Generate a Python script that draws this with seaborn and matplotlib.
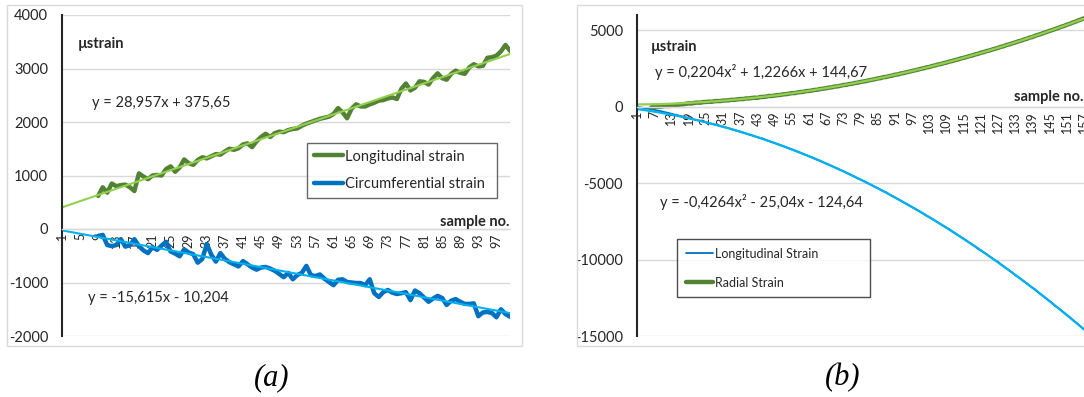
import numpy as np
import matplotlib
matplotlib.use("Agg")
import matplotlib.pyplot as plt
from matplotlib.patches import Rectangle
import seaborn as sns

# ================================================================
# DATA
# ================================================================
# (a) sample numbers 9..100
long_a = [620, 780, 680, 850, 800, 820, 830, 780, 710, 1040,
          980, 930, 1000, 1010, 1000, 1120, 1170, 1070, 1150, 1300,
          1230, 1200, 1290, 1340, 1320, 1360, 1400, 1390, 1450, 1500,
          1480, 1510, 1580, 1600, 1530, 1640, 1720, 1780, 1720, 1790,
          1820, 1810, 1850, 1870, 1880, 1930, 1970, 2000, 2030, 2060,
          2080, 2100, 2150, 2260, 2180, 2070, 2250, 2330, 2290, 2290,
          2330, 2360, 2400, 2410, 2440, 2460, 2430, 2620, 2720, 2590,
          2640, 2760, 2750, 2700, 2820, 2910, 2820, 2790, 2900, 2960,
          2920, 2900, 3020, 3080, 3040, 3050, 3200, 3210, 3240, 3320,
          3440, 3330]
circ_a = [-130, -110, -300, -320, -300, -190, -330, -300, -190, -320,
          -400, -450, -340, -390, -310, -240, -420, -460, -510, -380,
          -440, -470, -630, -560, -280, -480, -610, -450, -560, -620,
          -660, -700, -600, -660, -720, -760, -720, -710, -740, -780,
          -840, -900, -820, -940, -860, -820, -690, -860, -880, -850,
          -930, -990, -1050, -950, -940, -990, -1000, -1010, -1010, -1050,
          -940, -1200, -1270, -1180, -1140, -1190, -1215, -1200, -1180, -1330,
          -1150, -1200, -1280, -1360, -1300, -1250, -1290, -1420, -1340, -1310,
          -1360, -1400, -1400, -1390, -1630, -1560, -1550, -1570, -1650, -1500,
          -1590, -1640]
first_a = 9
trend_long_a = [28.957, 375.65]
trend_circ_a = [-15.615, -10.204]

# (b) radial strain from sample 6, longitudinal strain from sample 1
radial_b = [-40, -10, 10, 0, 30, 50, 40, 70, 100, 110,
            150, 160, 190, 220, 210, 250, 270, 260, 300, 310,
            330, 320, 360, 370, 370, 400, 410, 420, 450, 450,
            480, 500, 500, 540, 540, 570, 590, 580, 630, 640,
            660, 700, 700, 730, 760, 770, 810, 820, 850, 890,
            890, 930, 960, 970, 1020, 1030, 1060, 1100, 1110, 1160,
            1180, 1210, 1250, 1270, 1320, 1330, 1370, 1420, 1430, 1480,
            1500, 1550, 1570, 1620, 1650, 1680, 1730, 1760, 1800, 1850,
            1870, 1930, 1950, 2000, 2030, 2090, 2110, 2170, 2200, 2250,
            2290, 2340, 2380, 2420, 2480, 2510, 2570, 2600, 2660, 2700,
            2760, 2790, 2850, 2890, 2950, 2990, 3050, 3090, 3160, 3200,
            3250, 3310, 3350, 3420, 3460, 3530, 3570, 3640, 3680, 3740,
            3800, 3850, 3920, 3960, 4040, 4080, 4150, 4200, 4270, 4320,
            4390, 4440, 4520, 4560, 4640, 4700, 4760, 4830, 4890, 4960,
            5020, 5090, 5150, 5230, 5280, 5360, 5420, 5500, 5560, 5640,
            5710, 5790, 5850]
long_b = [-20, -40, -70, -100, -130, -170, -200, -240, -280, -320,
          -370, -410, -460, -510, -550, -600, -650, -700, -740, -790,
          -840, -880, -930, -970, -1020, -1060, -1110, -1160, -1200, -1260,
          -1310, -1360, -1410, -1470, -1520, -1580, -1630, -1690, -1750, -1810,
          -1860, -1930, -1990, -2050, -2090, -2180, -2240, -2310, -2370, -2440,
          -2510, -2580, -2650, -2720, -2790, -2860, -2940, -3010, -3090, -3160,
          -3240, -3300, -3390, -3470, -3550, -3630, -3720, -3800, -3880, -3970,
          -4050, -4140, -4220, -4310, -4400, -4490, -4580, -4700, -4760, -4860,
          -4950, -5040, -5140, -5240, -5330, -5430, -5530, -5600, -5730, -5830,
          -5930, -6040, -6140, -6250, -6350, -6460, -6570, -6670, -6780, -6890,
          -7000, -7130, -7230, -7340, -7450, -7570, -7690, -7800, -7920, -8010,
          -8160, -8280, -8400, -8520, -8640, -8770, -8890, -9020, -9140, -9300,
          -9400, -9530, -9650, -9790, -9920, -10050, -10150, -10320, -10450, -10590,
          -10720, -10860, -11030, -11140, -11280, -11420, -11560, -11700, -11840, -11960,
          -12130, -12280, -12420, -12570, -12720, -12870, -13050, -13170, -13320, -13470,
          -13630, -13760, -13940, -14090, -14250, -14410, -14570, -14730]
first_radial_b = 6
first_long_b = 1
trend_radial_b = [0.2204, 1.2266, 144.67]
trend_long_b = [-0.4264, -25.04, -124.64]

# ================================================================
# STYLE
# ================================================================
sns.set_theme(style="white")
plt.rcParams["font.family"] = ["Lato", "DejaVu Sans"]
plt.rcParams["axes.unicode_minus"] = False

DARK_GREEN = "#548235"
LIGHT_GREEN = "#92d050"
BLUE = "#0070c0"
LIGHT_BLUE = "#00b0f0"
GRID = "#d9d9d9"
TXT = "#262626"

W, H = 1084, 397


def fx(x):
    return x / W


def fy(y):
    return 1 - y / H


def style_axes(ax, yticks, xticks):
    ax.set_yticks(yticks)
    ax.set_xticks(xticks)
    ax.set_xticklabels([str(t) for t in xticks])
    ax.tick_params(axis="y", length=4, width=1.2, color=TXT, pad=6, labelsize=10.5, labelcolor=TXT)
    ax.tick_params(axis="x", length=0, pad=3, labelrotation=90, labelsize=9, labelcolor=TXT)
    for lab in ax.get_xticklabels():
        lab.set_verticalalignment("top")
        lab.set_horizontalalignment("center")
    ax.yaxis.grid(True, color=GRID, lw=1)
    ax.xaxis.grid(False)
    ax.set_axisbelow(True)
    ax.spines["top"].set_visible(False)
    ax.spines["right"].set_visible(False)
    ax.spines["left"].set_color(TXT)
    ax.spines["left"].set_linewidth(1.5)
    ax.spines["bottom"].set_position(("data", 0))
    ax.spines["bottom"].set_color(GRID)
    ax.spines["bottom"].set_linewidth(1)
    ax.set_xlabel("")
    ax.set_ylabel("")


fig = plt.figure(figsize=(W / 100, H / 100), dpi=100)

# chart frames
fig.patches.append(Rectangle((fx(7), fy(346)), (522 - 7) / W, (346 - 5) / H,
                             transform=fig.transFigure, fill=False, ec=GRID, lw=1))
fig.patches.append(Rectangle((fx(577), fy(346)), (1095 - 577) / W, (346 - 5) / H,
                             transform=fig.transFigure, fill=False, ec=GRID, lw=1))

# ================================================================
# (a)
# ================================================================
ax_a = fig.add_axes([fx(62), fy(336), (510 - 62) / W, (336 - 15) / H])
x_a = np.arange(first_a, first_a + len(long_a))
x_tr_a = np.arange(1, 101)

sns.lineplot(x=x_a, y=long_a, ax=ax_a, color=DARK_GREEN, lw=3.2, label="Longitudinal strain")
sns.lineplot(x=x_a, y=circ_a, ax=ax_a, color=BLUE, lw=3.2, label="Circumferential strain")
sns.lineplot(x=x_tr_a, y=np.polyval(trend_long_a, x_tr_a), ax=ax_a, color=LIGHT_GREEN, lw=1.5)
sns.lineplot(x=x_tr_a, y=np.polyval(trend_circ_a, x_tr_a), ax=ax_a, color=LIGHT_BLUE, lw=1.5)

ax_a.set_xlim(1, 100)
ax_a.set_ylim(-2000, 4000)
style_axes(ax_a, np.arange(-2000, 4001, 1000), np.arange(1, 101, 4))

h, l = ax_a.get_legend_handles_labels()
leg = ax_a.legend(h[:2], l[:2], loc="upper left", mode="expand",
                  bbox_to_anchor=(fx(307), fy(205), (497 - 307) / W, (205 - 143) / H),
                  bbox_transform=fig.transFigure, fontsize=10.5, frameon=True, fancybox=False,
                  edgecolor="#404040", borderpad=0.45, labelspacing=0.95,
                  handlelength=2.0, handletextpad=0.15, borderaxespad=0)
leg.get_frame().set_linewidth(1)
for t in leg.get_texts():
    t.set_color(TXT)

fig.text(fx(78), fy(44), "µstrain", fontsize=10.5, fontweight="bold", color=TXT, va="center")
fig.text(fx(92), fy(103), "y = 28,957x + 375,65", fontsize=10.5, color=TXT, va="center")
fig.text(fx(88), fy(298), "y = -15,615x - 10,204", fontsize=10.5, color=TXT, va="center")
fig.text(fx(510), fy(222), "sample no.", fontsize=10.5, fontweight="bold", color=TXT,
         va="center", ha="right")

# ================================================================
# (b)
# ================================================================
ax_b = fig.add_axes([fx(637), fy(336), (1084 - 637) / W, (336 - 15) / H])
x_rad_b = np.arange(first_radial_b, first_radial_b + len(radial_b))
x_long_b = np.arange(first_long_b, first_long_b + len(long_b))
x_tr_b = np.arange(1, 159)

sns.lineplot(x=x_long_b, y=long_b, ax=ax_b, color=BLUE, lw=1.3, label="Longitudinal Strain")
sns.lineplot(x=x_rad_b, y=radial_b, ax=ax_b, color=DARK_GREEN, lw=3.2, label="Radial Strain")
sns.lineplot(x=x_tr_b, y=np.polyval(trend_radial_b, x_tr_b), ax=ax_b, color=LIGHT_GREEN, lw=1.6)
sns.lineplot(x=x_tr_b, y=np.polyval(trend_long_b, x_tr_b), ax=ax_b, color=LIGHT_BLUE, lw=1.6)

ax_b.set_xlim(1, 156.8)
ax_b.set_ylim(-15000, 6000)
style_axes(ax_b, np.arange(-15000, 5001, 5000), np.arange(1, 159, 6))

h, l = ax_b.get_legend_handles_labels()
leg = ax_b.legend(h[:2], l[:2], loc="upper left", mode="expand",
                  bbox_to_anchor=(fx(677), fy(305), (870 - 677) / W, (305 - 239) / H),
                  bbox_transform=fig.transFigure, fontsize=9, frameon=True, fancybox=False,
                  edgecolor="#202020", borderpad=0.7, labelspacing=1.35,
                  handlelength=2.2, handletextpad=0.15, borderaxespad=0)
leg.get_frame().set_linewidth(1)
for t in leg.get_texts():
    t.set_color(TXT)

fig.text(fx(651), fy(47), "µstrain", fontsize=10.5, fontweight="bold", color=TXT, va="center")
fig.text(fx(655), fy(72), "y = 0,2204x² + 1,2266x + 144,67", fontsize=10.5, color=TXT, va="center")
fig.text(fx(660), fy(202), "y = -0,4264x² - 25,04x - 124,64", fontsize=10.5, color=TXT, va="center")
fig.text(fx(1014), fy(97), "sample no.", fontsize=10.5, fontweight="bold", color=TXT, va="center")

# captions
fig.text(fx(272), fy(378), "(a)", fontsize=22, style="italic", family="Liberation Serif",
         color="black", ha="center", va="center")
fig.text(fx(843), fy(378), "(b)", fontsize=22, style="italic", family="Liberation Serif",
         color="black", ha="center", va="center")

fig.savefig("out.png", dpi=100)
